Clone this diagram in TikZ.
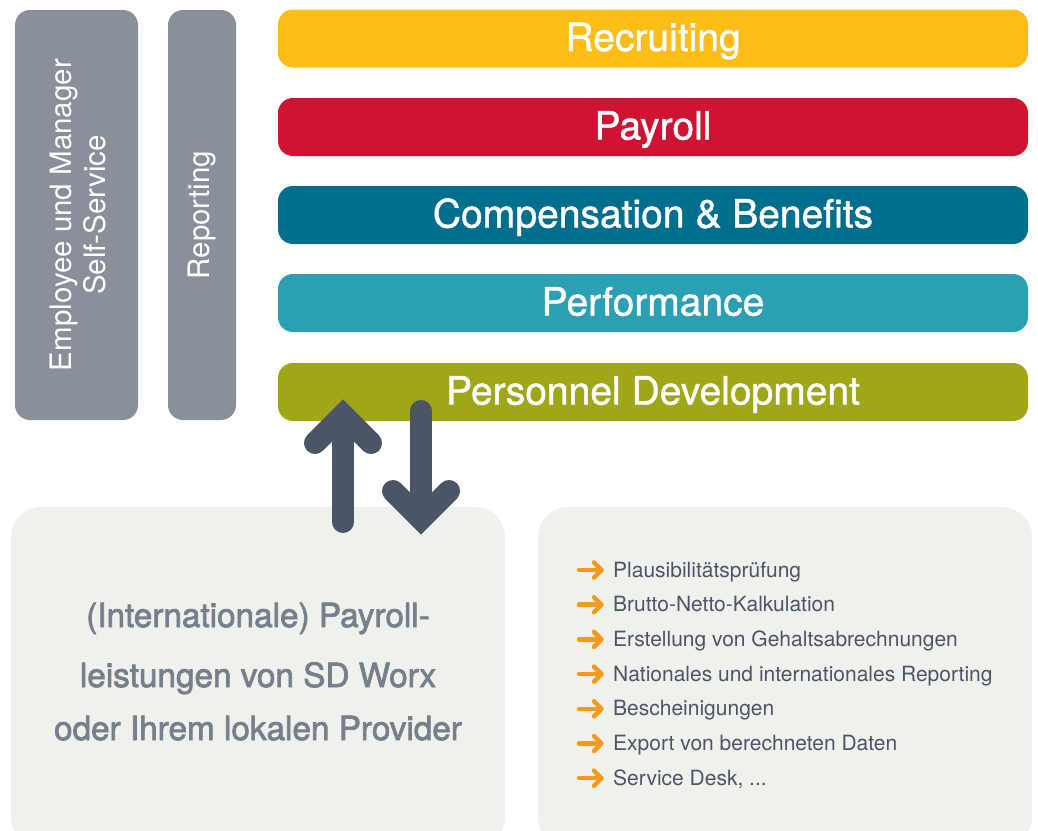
\documentclass[tikz,border=0pt]{standalone}
\usepackage{fontspec}
\setmainfont{TeX Gyre Heros}
\newfontfamily\medfont[FakeBold=2.2]{TeX Gyre Heros}
\newfontfamily\titlefont[FakeBold=1.2]{TeX Gyre Heros}
\definecolor{cRec}{HTML}{FDBD17}
\definecolor{cPay}{HTML}{CE1432}
\definecolor{cCom}{HTML}{006F8E}
\definecolor{cPerf}{HTML}{2BA0B2}
\definecolor{cDev}{HTML}{9FA617}
\definecolor{cGrey}{HTML}{8A9099}
\definecolor{cArr}{HTML}{4B5567}
\definecolor{cPanel}{HTML}{EFF2EC}
\definecolor{cPanelTxt}{HTML}{767F8C}
\definecolor{cOrange}{HTML}{F29A20}
\newcommand{\myServiceDesk}{Service Desk, ...}
\tikzset{
  bar/.style={rounded corners=15pt, fill=#1, minimum width=750pt, minimum height=58pt,
    inner sep=0pt, text=white, text height=25pt, text depth=0pt,
    font=\titlefont\fontsize{39}{44}\selectfont},
  side/.style={rounded corners=15pt, fill=cGrey, inner sep=0pt},
  sidetxt/.style={rotate=90, text=white, align=center, font=\fontsize{29.5}{34}\selectfont},
  panel/.style={rounded corners=30pt, fill=cPanel, inner sep=0pt, minimum width=494pt, minimum height=340pt},
  paneltxt/.style={anchor=base, text=cPanelTxt, inner sep=0pt, font=\medfont\fontsize{33.3}{36}\selectfont},
  item/.style={anchor=base west, text=cArr, inner sep=0pt, font=\fontsize{21}{24}\selectfont},
  bigarrow/.style={draw=cArr, line width=22pt, line cap=round, line join=miter},
  bullet/.style={draw=cOrange, line width=4.5pt, line cap=round, line join=round}
}
\begin{document}
\begin{tikzpicture}[x=1pt,y=-1pt]
\clip (0,0) rectangle (1038,830);
\fill[white] (0,0) rectangle (1038,830);
% side boxes
\node[side, minimum width=123pt, minimum height=410pt] (ess) at (76.5,215) {};
\node[sidetxt] (esst) at ([xshift=1.5pt]ess.center) {Employee und Manager\\Self-Service};
\node[side, minimum width=68pt, minimum height=410pt] (rep) at (202,215) {};
\node[sidetxt] (rept) at (rep.center) {Reporting};
% bars
\node[bar=cRec] (rec) at (653,38.5) {Recruiting};
\node[bar=cPay] (pay) at (653,127) {Payroll};
\node[bar=cCom] (com) at (653,215) {Compensation \& Benefits};
\node[bar=cPerf] (perf) at (653,303) {Performance};
\node[bar=cDev] (dev) at (653,392) {Personnel Development};
% panels
\node[panel] (left) at (258,677) {};
\node[panel] (right) at (785,677) {};
\node[paneltxt] (l1) at (258,627) {(Internationale) Payroll-};
\node[paneltxt] (l2) at (258,687) {leistungen von SD Worx};
\node[paneltxt] (l3) at (258,740) {oder Ihrem lokalen Provider};
% list
\foreach \t [count=\i from 0] in {Plausibilitätsprüfung, Brutto-Netto-Kalkulation,
  Erstellung von Gehaltsabrechnungen, Nationales und internationales Reporting,
  Bescheinigungen, Export von berechneten Daten, \myServiceDesk} {
  \node[item] (it\i) at (613,577+34.7*\i) {\t};
  \draw[bullet] ([shift={(-34,-7)}]it\i.base west) -- ([shift={(-12,-7)}]it\i.base west);
  \draw[bullet] ([shift={(-19,-14.5)}]it\i.base west) -- ([shift={(-11.5,-7)}]it\i.base west) -- ([shift={(-19,0.5)}]it\i.base west);
}
% big arrows
\coordinate (upTail) at (343,522);
\coordinate (upTip) at (343,415);
\draw[bigarrow] (upTail) -- (upTip);
\draw[bigarrow] (315,443) -- (upTip) -- (371,443);
\coordinate (dnTail) at (421,411);
\coordinate (dnTip) at (421,519);
\draw[bigarrow] (dnTail) -- (dnTip);
\draw[bigarrow] (393,491) -- (dnTip) -- (449,491);
\end{tikzpicture}
\end{document}
